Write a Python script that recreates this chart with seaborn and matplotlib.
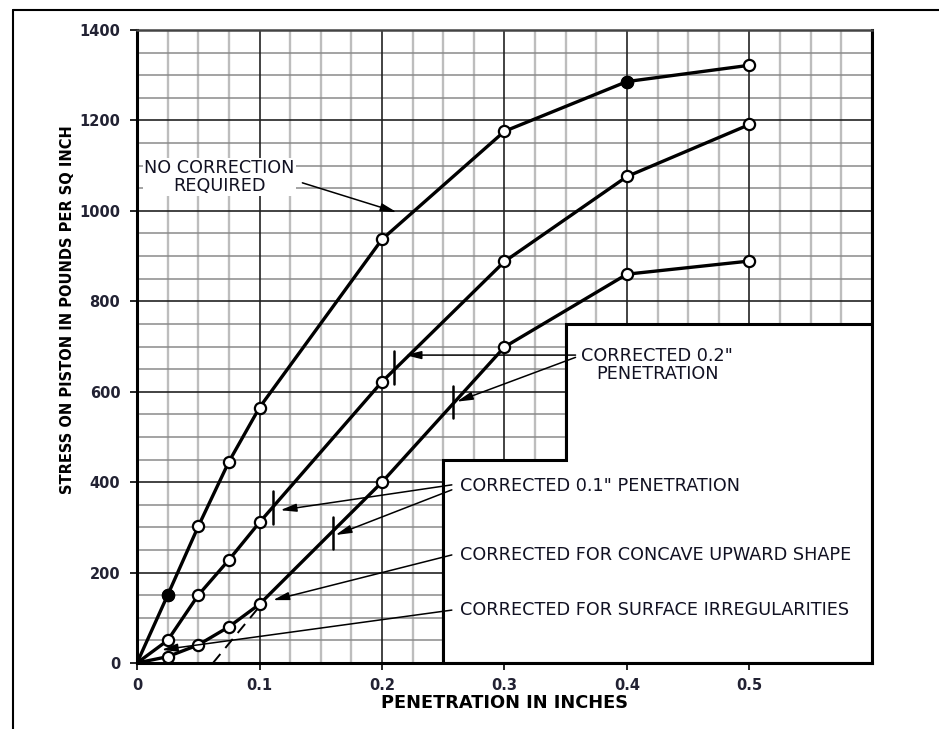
import numpy as np
import pandas as pd
import seaborn as sns
import matplotlib.pyplot as plt
from matplotlib.lines import Line2D
from matplotlib.ticker import MultipleLocator, FixedLocator

# ---------------- data ----------------
penetration = [0.0, 0.025, 0.05, 0.075, 0.1, 0.2, 0.3, 0.4, 0.5]
no_correction = [0, 150, 302, 445, 565, 937, 1176, 1286, 1322]
curve_mid = [0, 50, 150, 228, 311, 622, 888, 1076, 1191]
curve_low = [0, 14, 40, 80, 130, 400, 699, 860, 889]
filled_pts_x = [0.025, 0.4]
filled_pts_y = [150, 1286]

dashed_x = [0.062, 0.1]
dashed_y = [0, 125]

corr_tick_x = [0.111, 0.21, 0.16, 0.258]
corr_tick_y = [344, 653, 288, 577]
corr_tick_half = 36

x_ticks = [0, 0.1, 0.2, 0.3, 0.4, 0.5]
x_tick_labels = ["0", "0.1", "0.2", "0.3", "0.4", "0.5"]
y_ticks = [0, 200, 400, 600, 800, 1000, 1200, 1400]

box_x = [0.25, 0.25, 0.35, 0.35, 0.6, 0.6]
box_y = [0, 450, 450, 750, 750, 0]

# annotations: (text, text_xy, [(start_xy, end_xy), ...])
ann_no_corr = ("NO CORRECTION\nREQUIRED", (0.0675, 1075), [((0.135, 1062), (0.212, 997))])
ann_02 = ("CORRECTED 0.2\"\nPENETRATION", (0.4245, 659),
          [((0.358, 681), (0.219, 681)), ((0.358, 676), (0.261, 578))])
ann_01 = ("CORRECTED 0.1\" PENETRATION", (0.264, 391),
          [((0.257, 394), (0.117, 338)), ((0.257, 383), (0.162, 283))])
ann_concave = ("CORRECTED FOR CONCAVE UPWARD SHAPE", (0.264, 239),
               [((0.257, 239), (0.111, 139))])
ann_surface = ("CORRECTED FOR SURFACE IRREGULARITIES", (0.264, 117),
               [((0.257, 117), (0.02, 29))])

# ---------------- plot ----------------
sns.set_theme(style="white")
plt.rcParams['font.family'] = ['DejaVu Sans']

fig = plt.figure(figsize=(9.39, 7.29), dpi=100)
ax = fig.add_axes([137/939, 1 - 663/729, 735/939, 633/729])
ax.set_xlim(0, 0.6)
ax.set_ylim(0, 1400)

ax.xaxis.set_major_locator(FixedLocator(x_ticks))
ax.set_xticklabels(x_tick_labels)
ax.yaxis.set_major_locator(FixedLocator(y_ticks))
ax.xaxis.set_minor_locator(MultipleLocator(0.025))
ax.yaxis.set_minor_locator(MultipleLocator(50))

ax.set_axisbelow(True)
ax.grid(which='minor', axis='x', color='#bdbdbd', lw=1.7)
ax.grid(which='minor', axis='y', color='#8a8a8a', lw=1.1)
for xv in [0.1, 0.2, 0.3, 0.4, 0.5]:
    ax.axvline(xv, color='#222222', lw=1.2, zorder=0.8)
for yv in y_ticks[1:-1]:
    ax.axhline(yv, color='#222222', lw=1.2, zorder=0.8)

# white stepped box
ax.fill(box_x, box_y, facecolor='white', edgecolor='black', lw=2.2, zorder=1.5)

# curves
for ys in [no_correction, curve_mid, curve_low]:
    sns.lineplot(x=penetration, y=ys, color='black', lw=2.4, ax=ax, zorder=3,
                 sort=False, estimator=None)
    sns.scatterplot(x=penetration[1:], y=ys[1:], ax=ax, s=65, color='white',
                    edgecolor='black', linewidth=1.6, zorder=4, legend=False)
sns.scatterplot(x=filled_pts_x, y=filled_pts_y, ax=ax, s=65, color='black',
                edgecolor='black', linewidth=1.6, zorder=5, legend=False)

# dashed tangent line
ax.plot(dashed_x, dashed_y, color='black', lw=1.4, ls=(0, (6, 4)), zorder=3)

# correction tick bars
for tx, ty in zip(corr_tick_x, corr_tick_y):
    ax.plot([tx, tx], [ty - corr_tick_half, ty + corr_tick_half], color='black',
            lw=1.8, zorder=3)

arrowprops = dict(arrowstyle='-|>,head_length=0.8,head_width=0.2', color='black',
                  lw=1.1, shrinkA=0, shrinkB=0)
FS = 12.7
for text, txy, arrows in [ann_no_corr, ann_02]:
    ax.text(txy[0], txy[1], text, ha='center', va='center', fontsize=FS,
            color='#111122', zorder=6, linespacing=0.95,
            bbox=dict(facecolor='white', edgecolor='none', pad=1.0))
    for s, e in arrows:
        ax.annotate('', xy=e, xytext=s, arrowprops=arrowprops, zorder=6)
for text, txy, arrows in [ann_01, ann_concave, ann_surface]:
    ax.text(txy[0], txy[1], text, ha='left', va='center', fontsize=FS,
            color='#111122', zorder=6)
    for s, e in arrows:
        ax.annotate('', xy=e, xytext=s, arrowprops=arrowprops, zorder=6)

# spines & ticks
for sp in ax.spines.values():
    sp.set_visible(True)
    sp.set_color('black')
    sp.set_linewidth(2.2)
ax.spines['top'].set_color('#444444')
ax.spines['top'].set_linewidth(1.8)
ax.tick_params(which='major', direction='out', length=5, width=1.2, color='black',
               bottom=True, left=True, labelsize=10.5)
ax.tick_params(axis='y', pad=7)
ax.tick_params(axis='x', pad=6)
ax.tick_params(which='minor', length=0)
for lab in ax.get_xticklabels() + ax.get_yticklabels():
    lab.set_fontweight('bold')
    lab.set_color('#222233')

ax.set_xlabel("PENETRATION IN INCHES", fontsize=12.8, fontweight='bold', color='black')
ax.xaxis.label.set_va('center')
ax.xaxis.set_label_coords(0.5, -0.063)
ax.set_ylabel("STRESS ON PISTON IN POUNDS PER SQ INCH", fontsize=10.5,
              fontweight='bold', color='black')
ax.yaxis.label.set_va('center')
ax.yaxis.set_label_coords(-0.095, 0.558)

# page border (L-shaped frame)
fig.add_artist(Line2D([13/939, 13/939], [0, 1 - 10/729], transform=fig.transFigure,
                      color='black', lw=1.5))
fig.add_artist(Line2D([13/939, 1], [1 - 10/729, 1 - 10/729], transform=fig.transFigure,
                      color='black', lw=1.5))

fig.savefig("out.png", dpi=100)
